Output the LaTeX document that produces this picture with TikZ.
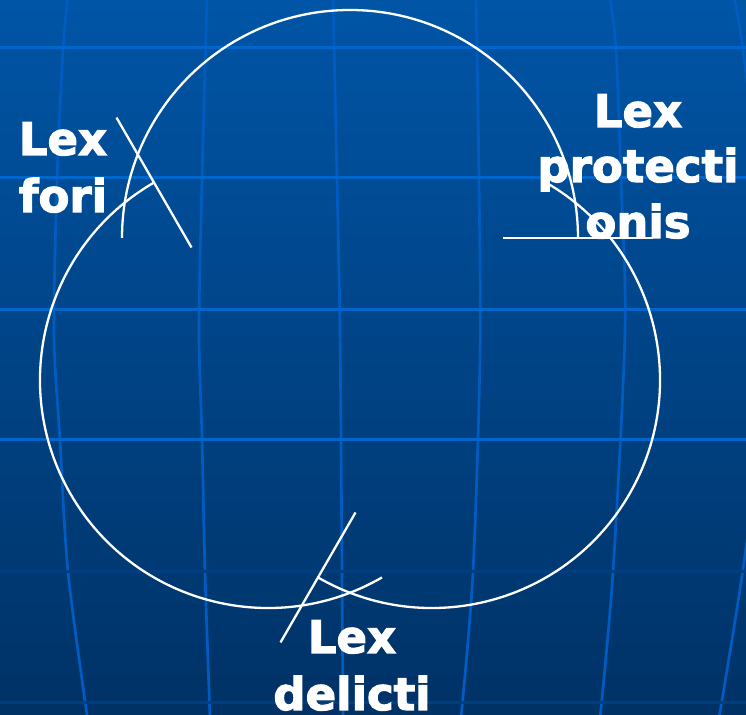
\documentclass[tikz,border=0pt]{standalone}
\usepackage{fontspec}
\setmainfont{DejaVu Sans}
\newfontfamily\lblfont{DejaVu Sans Bold}[FakeBold=2.6]
\usetikzlibrary{calc}
\definecolor{bgtop}{RGB}{0,85,166}
\definecolor{bgbot}{RGB}{0,50,102}
\definecolor{gridh}{RGB}{0,102,204}
\definecolor{gridv}{RGB}{0,92,192}
\definecolor{griddark}{RGB}{0,62,128}
\begin{document}
\begin{tikzpicture}[x=1bp,y=1bp,
  hline/.style={draw=gridh, line width=3bp},
  vline/.style={draw=gridv, line width=2.7bp},
  dline/.style={draw=griddark, line width=3bp},
  ring/.style={draw=white, line width=2.3bp},
  tickline/.style={draw=white, line width=2.3bp},
  lbl/.style={anchor=base, text=white, inner sep=0pt,
    font=\fontsize{45bp}{54bp}\selectfont\lblfont}]
\useasboundingbox (0,0) rectangle (746,715);
\shade[top color=bgtop, bottom color=bgbot] (0,0) rectangle (746,715);
\begin{scope}
  \clip (0,0) rectangle (746,715);
  % curved meridians
  \draw[vline] plot[smooth] coordinates {(68,718) (63,665) (57,535) (54,380) (60,275) (68,143) (87,0) (88,-3)};
  \draw[vline] plot[smooth] coordinates {(207,718) (202,535) (199,385) (202,277) (205,143) (210,-3)};
  \draw[vline] plot[smooth] coordinates {(333,718) (337,535) (340,385) (342,143) (343,-3)};
  \draw[vline] plot[smooth] coordinates {(476,718) (479,535) (480,360) (473,143) (461,-3)};
  \draw[vline] plot[smooth] coordinates {(610,718) (616,665) (621,535) (625,385) (613,143) (600,-3)};
  \draw[vline] plot[smooth] coordinates {(734,718) (743,665) (762,500) (768,360) (745,160) (719,-3)};
  % parallels
  \foreach \yy in {667,537,405,275} {\draw[hline] (0,\yy) -- (746,\yy);}
  \foreach \yy in {143,12} {\draw[dline] (0,\yy) -- (746,\yy);}
\end{scope}
% circle centres
\coordinate (ct) at (350,477);
\coordinate (cl) at (268,335);
\coordinate (cr) at (432,335);
% arc start points
\coordinate (pt) at ($(ct)+(0:228)$);
\coordinate (pl) at ($(cl)+(120:228)$);
\coordinate (pr) at ($(cr)+(240:228)$);
% arcs
\draw[ring] (pt) arc[start angle=0, end angle=180, radius=228];
\draw[ring] (pl) arc[start angle=120, end angle=300, radius=228];
\draw[ring] (pr) arc[start angle=240, end angle=420, radius=228];
% radial ticks
\draw[tickline] ($(pt)+(180:75)$) -- ($(pt)+(0:75)$);
\draw[tickline] ($(pl)+(300:75)$) -- ($(pl)+(120:75)$);
\draw[tickline] ($(pr)+(60:75)$) -- ($(pr)+(240:75)$);
% labels
\node[lbl] (fori1) at (63,560) {Lex};
\node[lbl] (fori2) at (63,503) {fori};
\node[lbl] (prot1) at (638,588) {Lex};
\node[lbl] (prot2) at (638,533) {protecti};
\node[lbl] (prot3) at (638,477) {onis};
\node[lbl] (del1) at (352,62) {Lex};
\node[lbl] (del2) at (352,5) {delicti};
\end{tikzpicture}
\end{document}
